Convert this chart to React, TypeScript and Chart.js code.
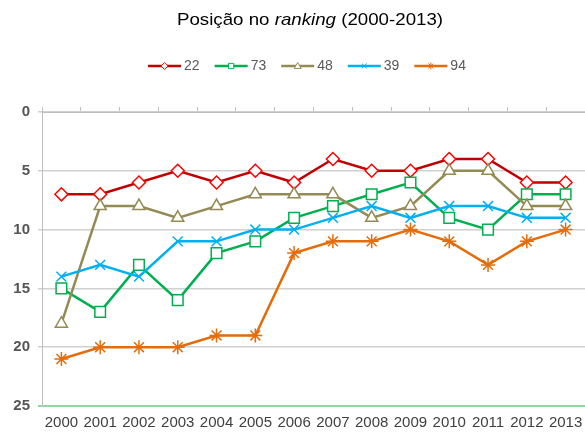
import { useEffect, useRef } from 'react';
import { Chart, registerables } from 'chart.js';
Chart.register(...registerables);

const categories = ['2000', '2001', '2002', '2003', '2004', '2005', '2006', '2007', '2008', '2009', '2010', '2011', '2012', '2013'];
const seriesNames = ['22', '73', '48', '39', '94'];
const s22 = [7, 7, 6, 5, 6, 5, 6, 4, 5, 5, 4, 4, 6, 6];
const s73 = [15, 17, 13, 16, 12, 11, 9, 8, 7, 6, 9, 10, 7, 7];
const s48 = [18, 8, 8, 9, 8, 7, 7, 7, 9, 8, 5, 5, 8, 8];
const s39 = [14, 13, 14, 11, 11, 10, 10, 9, 8, 9, 8, 8, 9, 9];
const s94 = [21, 20, 20, 20, 19, 19, 12, 11, 11, 10, 11, 13, 11, 10];
const yTicks = [0, 5, 10, 15, 20, 25];
const subtitleParts = [
  { text: 'Posição no ', italic: false },
  { text: 'ranking', italic: true },
  { text: ' (2000-2013)', italic: false },
];

const styles = [
  { line: '#c00000', marker: '#ff0000', point: 'rectRot', r: 6.5, fill: '#ffffff' },
  { line: '#00b050', marker: '#00b050', point: 'rect', r: 7.5, fill: '#ffffff' },
  { line: '#948a54', marker: '#948a54', point: 'triangle', r: 7, fill: '#ffffff' },
  { line: '#00b0f0', marker: '#00b0f0', point: 'crossRot', r: 7, fill: '#00b0f0' },
  { line: '#e46c0a', marker: '#e46c0a', point: 'star', r: 7, fill: '#e46c0a' },
];

const FONT = '"Liberation Sans", Arial, sans-serif';

function legendMarker(ctx: CanvasRenderingContext2D, kind: string, x: number, y: number, r: number, color: string) {
  ctx.save();
  ctx.strokeStyle = color;
  ctx.fillStyle = '#ffffff';
  ctx.lineWidth = 1;
  ctx.beginPath();
  if (kind === 'rectRot') {
    ctx.moveTo(x, y - r); ctx.lineTo(x + r, y); ctx.lineTo(x, y + r); ctx.lineTo(x - r, y); ctx.closePath();
    ctx.fill(); ctx.stroke();
  } else if (kind === 'rect') {
    ctx.rect(x - r * 0.75, y - r * 0.75, r * 1.5, r * 1.5); ctx.fill(); ctx.stroke();
  } else if (kind === 'triangle') {
    ctx.moveTo(x, y - r); ctx.lineTo(x + r, y + r * 0.7); ctx.lineTo(x - r, y + r * 0.7); ctx.closePath();
    ctx.fill(); ctx.stroke();
  } else if (kind === 'crossRot') {
    ctx.moveTo(x - r * 0.7, y - r * 0.7); ctx.lineTo(x + r * 0.7, y + r * 0.7);
    ctx.moveTo(x + r * 0.7, y - r * 0.7); ctx.lineTo(x - r * 0.7, y + r * 0.7); ctx.stroke();
  } else {
    ctx.moveTo(x - r * 0.7, y - r * 0.7); ctx.lineTo(x + r * 0.7, y + r * 0.7);
    ctx.moveTo(x + r * 0.7, y - r * 0.7); ctx.lineTo(x - r * 0.7, y + r * 0.7);
    ctx.moveTo(x, y - r); ctx.lineTo(x, y + r); ctx.stroke();
  }
  ctx.restore();
}

export default function App() {
  const ref = useRef<HTMLCanvasElement | null>(null);
  useEffect(() => {
    document.body.style.margin = '0';
    const values = [s22, s73, s48, s39, s94];
    const overlay = {
      id: 'overlay',
      afterDraw(chart: any) {
        const ctx = chart.ctx as CanvasRenderingContext2D;
        ctx.save();
        const size = 17;
        const stretch = 1.1;
        let total = 0;
        subtitleParts.forEach((p) => {
          ctx.font = `${p.italic ? 'italic ' : ''}${size}px ${FONT}`;
          total += ctx.measureText(p.text).width;
        });
        ctx.translate(310 - (total * stretch) / 2, 25);
        ctx.scale(stretch, 1);
        let x = 0;
        ctx.fillStyle = '#000000';
        ctx.textBaseline = 'alphabetic';
        ctx.textAlign = 'left';
        subtitleParts.forEach((p) => {
          ctx.font = `${p.italic ? 'italic ' : ''}${size}px ${FONT}`;
          ctx.fillText(p.text, x, 0);
          x += ctx.measureText(p.text).width;
        });
        ctx.restore();
        ctx.save();
        ctx.font = `14px ${FONT}`;
        const lineW = 33;
        const gap = 3;
        const itemGap = 15;
        let lw = 0;
        seriesNames.forEach((n, i) => {
          lw += lineW + gap + ctx.measureText(n).width + (i < seriesNames.length - 1 ? itemGap : 0);
        });
        let lx = 307 - lw / 2;
        const ly = 66;
        seriesNames.forEach((n, i) => {
          const st = styles[i];
          ctx.strokeStyle = st.line;
          ctx.lineWidth = 2.5;
          ctx.beginPath();
          ctx.moveTo(lx, ly);
          ctx.lineTo(lx + lineW, ly);
          ctx.stroke();
          legendMarker(ctx, st.point, lx + lineW / 2, ly, 3.5, st.marker);
          ctx.fillStyle = '#595959';
          ctx.textBaseline = 'middle';
          ctx.font = `14px ${FONT}`;
          ctx.fillText(n, lx + lineW + gap, ly);
          lx += lineW + gap + ctx.measureText(n).width + itemGap;
        });
        ctx.restore();
      },
    };
    const chart = new Chart(ref.current as HTMLCanvasElement, {
      type: 'line',
      data: {
        labels: categories,
        datasets: values.map((v, i) => ({
          label: seriesNames[i],
          data: v,
          borderColor: styles[i].line,
          borderWidth: 2.5,
          pointStyle: styles[i].point as any,
          pointRadius: styles[i].r,
          pointBorderColor: styles[i].marker,
          pointBackgroundColor: styles[i].fill,
          pointBorderWidth: 1.5,
          tension: 0,
          order: 5 - i,
        })),
      },
      options: {
        animation: false,
        responsive: true,
        maintainAspectRatio: false,
        layout: { autoPadding: false, padding: { top: 106, left: 0, right: 0, bottom: 0 } },
        plugins: {
          legend: { display: false },
          title: { display: false },
          tooltip: { enabled: false },
        },
        scales: {
          x: {
            type: 'category',
            position: 'bottom',
            offset: true,
            grid: { display: false },
            border: { display: false },
            ticks: { color: '#404040', font: { family: FONT, size: 15 }, padding: 0, maxRotation: 0, autoSkip: false },
            afterFit: (s: any) => { s.height = 28; s.paddingLeft = 0; s.paddingRight = 0; },
          },
          x2: {
            type: 'category',
            position: 'top',
            offset: true,
            grid: { display: true, drawOnChartArea: false, drawTicks: true, tickLength: 5, color: '#bfbfbf', offset: true },
            border: { display: true, color: '#bfbfbf' },
            ticks: { display: false },
            afterFit: (s: any) => { s.height = 6; s.paddingLeft = 0; s.paddingRight = 0; },
          },
          y: {
            reverse: true,
            min: 0,
            max: 25,
            afterBuildTicks: (s: any) => { s.ticks = yTicks.map((v) => ({ value: v })); },
            grid: {
              color: (c: any) => (c.tick && c.tick.value === 25 ? '#8fd9a0' : '#d0d0d0'),
              lineWidth: (c: any) => (c.tick && c.tick.value === 25 ? 2 : 1.5),
              tickLength: 4,
            },
            border: { display: true, color: '#bfbfbf' },
            ticks: { color: '#555555', font: { family: FONT, size: 15, weight: 'bold' }, padding: 8 },
            afterFit: (s: any) => { s.width = 42; s.paddingTop = 0; s.paddingBottom = 0; },
          },
        },
      },
      plugins: [overlay],
    });
    return () => chart.destroy();
  }, []);
  return (
    <div style={{ width: 585, height: 434, position: 'relative' }}>
      <canvas ref={ref} />
    </div>
  );
}
